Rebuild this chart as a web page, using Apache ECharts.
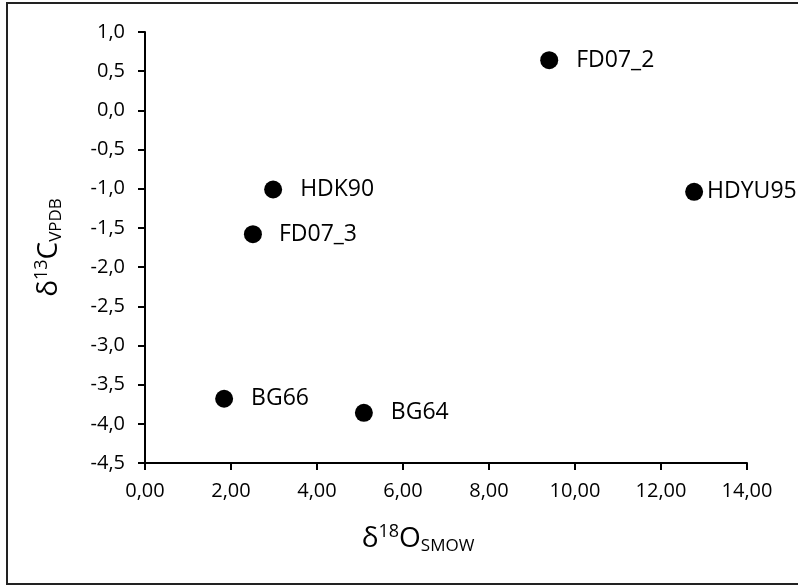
<!DOCTYPE html>
<html>
<head>
<meta charset="utf-8">
<script src="https://cdn.jsdelivr.net/npm/echarts@6/dist/echarts.min.js"></script>
<style>html,body{margin:0;padding:0;background:#fff;}#c{width:798px;height:588px;}</style>
</head>
<body>
<div id="c"></div>
<script>
var sampleNames = ['FD07_2', 'HDYU95', 'HDK90', 'FD07_3', 'BG66', 'BG64'];
var d18O = [9.40, 12.77, 2.98, 2.51, 1.84, 5.09];
var d13C = [0.64, -1.04, -1.01, -1.58, -3.68, -3.86];
var labelDistances = [18, 4, 18, 17, 18, 18];

var chart = echarts.init(document.getElementById('c'), null, {renderer: 'canvas'});
var FONT = '"Open Sans", "Noto Sans", sans-serif';
var TXT = '#000';
var data = sampleNames.map(function (n, i) {
  return {
    name: n,
    value: [d18O[i], d13C[i]],
    label: {distance: labelDistances[i]}
  };
});
var richName = {
  d: {fontSize: 28, color: TXT, fontFamily: FONT, lineHeight: 36},
  sup: {fontSize: 18, color: TXT, fontFamily: FONT, padding: [0, 0, 14, 0]},
  sub: {fontSize: 17, color: TXT, fontFamily: FONT, padding: [14, 0, 0, 0]}
};
var option = {
  animation: false,
  backgroundColor: '#fff',
  textStyle: {fontFamily: FONT},
  graphic: [{
    type: 'rect', silent: true,
    shape: {x: 7, y: 3, width: 820, height: 581},
    style: {fill: 'none', stroke: '#222', lineWidth: 2}
  }],
  grid: {left: 145, right: 51, top: 32, bottom: 125},
  xAxis: {
    type: 'value', min: 0, max: 14, interval: 2,
    splitLine: {show: false},
    axisLine: {onZero: false, lineStyle: {color: '#000', width: 2}},
    axisTick: {show: true, length: 7, lineStyle: {color: '#000', width: 2}},
    axisLabel: {
      margin: 18, color: TXT, fontSize: 20, fontFamily: FONT,
      formatter: function (v) { return v.toFixed(2).replace('.', ','); }
    },
    name: '{d|δ}{sup|18}{d|O}{sub|SMOW}',
    nameLocation: 'middle',
    nameGap: 58,
    nameTextStyle: {padding: [0, 56, 0, 0], rich: richName}
  },
  yAxis: {
    type: 'value', min: -4.5, max: 1, interval: 0.5,
    splitLine: {show: false},
    axisLine: {show: true, onZero: false, lineStyle: {color: '#000', width: 2}},
    axisTick: {show: true, length: 7, lineStyle: {color: '#000', width: 2}},
    axisLabel: {
      margin: 20, color: TXT, fontSize: 20, fontFamily: FONT,
      formatter: function (v) { return v.toFixed(1).replace('.', ','); }
    },
    name: '{d|δ}{sup|13}{d|C}{sub|VPDB}',
    nameLocation: 'middle',
    nameGap: 78,
    nameTextStyle: {rich: richName}
  },
  series: [{
    type: 'scatter',
    symbol: 'circle',
    symbolSize: 18,
    itemStyle: {color: '#000', opacity: 1},
    label: {
      show: true, position: 'right',
      formatter: '{b}', color: TXT, fontSize: 23, fontFamily: FONT
    },
    data: data
  }]
};
chart.setOption(option);
</script>
</body>
</html>
